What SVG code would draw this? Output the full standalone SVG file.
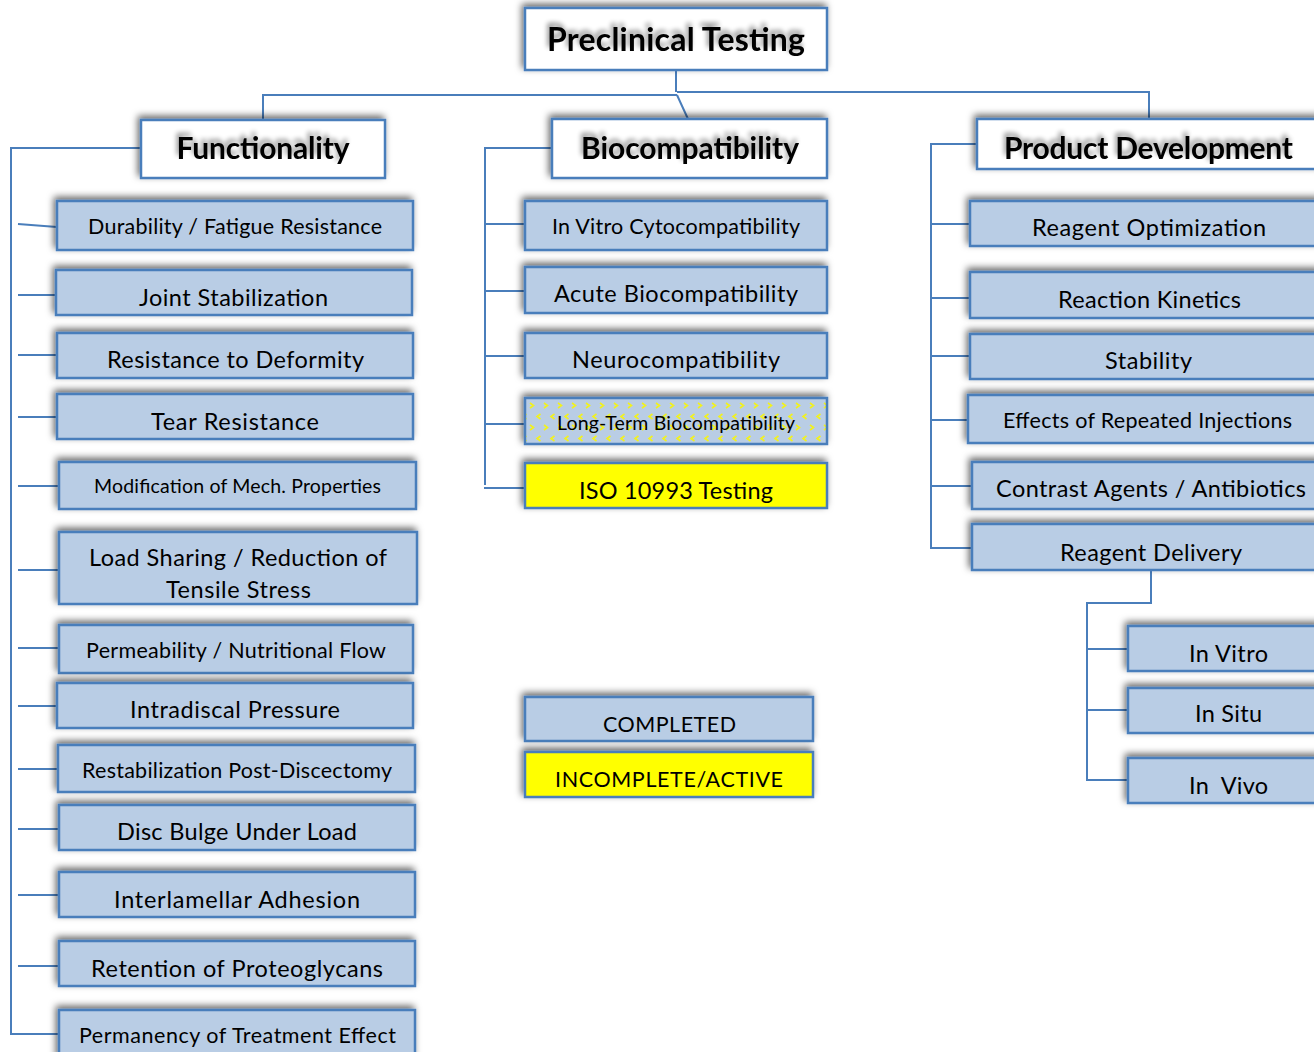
<svg xmlns="http://www.w3.org/2000/svg" width="1314" height="1052" viewBox="0 0 1314 1052">
<style>
.hd{fill:#fff;stroke:#4a7ebb;stroke-width:2.5;filter:url(#sh)}
.bx{fill:#b9cde5;stroke:#4a7ebb;stroke-width:2.5;filter:url(#sh)}
.yl{fill:#ffff00;stroke:#4a7ebb;stroke-width:2.5;filter:url(#sh)}
.pt{fill:url(#chev);stroke:#4a7ebb;stroke-width:2.5;filter:url(#sh)}
text{font-family:Lato,"Liberation Sans",sans-serif;fill:#000;text-anchor:middle}
.ht{font-weight:bold;font-size:30px;filter:url(#tsh)}
.t{font-size:23.5px}
.s{font-size:21.5px}
.c{fill:none;stroke:#4a7ebb;stroke-width:2}
</style>
<defs>
<filter id="sh" x="-10%" y="-30%" width="120%" height="160%">
<feDropShadow dx="-2" dy="-3" stdDeviation="3.5" flood-color="#000" flood-opacity="0.6"/>
</filter>
<filter id="tsh" x="-10%" y="-50%" width="120%" height="200%">
<feGaussianBlur in="SourceAlpha" stdDeviation="2.5" result="b"/>
<feOffset in="b" dx="-2" dy="-4" result="o"/>
<feComponentTransfer in="o" result="s"><feFuncA type="linear" slope="0.45"/></feComponentTransfer>
<feMerge><feMergeNode in="s"/><feMergeNode in="SourceGraphic"/></feMerge>
</filter>
<pattern id="chev" width="14" height="22" patternUnits="userSpaceOnUse" x="527" y="400">
<rect width="14" height="22" fill="#b9cde5"/>
<path d="M3 3 L6.5 5.5 L3 8" fill="none" stroke="#f2f21a" stroke-width="1.6"/>
<path d="M13.5 14 L10 16.5 L13.5 19" fill="none" stroke="#f2f21a" stroke-width="1.6"/>
</pattern>
</defs>

<g id="connectors">
<path class="c" d="M676 70 V92 M263 120 V95 H677 M677 92 H1149 V119 M677 95 L688 119"/>
<path class="c" d="M141 148 H11 V1034 H59"/>
<path class="c" d="M18 224 L57 227 M18 295 H56 M18 355 H57 M18 417 H57 M18 486 H59 M18 570 H59 M18 648 H59 M18 706 H57 M18 769 H58 M18 829 H59 M18 895 H59 M18 966 H59"/>
<path class="c" d="M552 148 H485 V485 M484 488 H525 M485 224 H525 M485 291 H525 M485 356 H525 M485 424 H525"/>
<path class="c" d="M977 144 H931 V548 H972 M931 224 H970 M931 298 H970 M931 356 H970 M931 420 H970 M931 486 H972"/>
<path class="c" d="M1151 570 V603 H1087 V780 H1128 M1087 649 H1128 M1087 710 H1128"/>
</g>

<g id="n-preclinical"><rect class="hd" x="525" y="8" width="302" height="62"/><text class="ht" x="676" y="51" style="font-size:32px" textLength="258">Preclinical Testing</text></g>
<g id="n-functionality"><rect class="hd" x="141" y="120" width="244" height="58"/><text class="ht" x="263" y="159" textLength="173">Functionality</text></g>
<g id="n-biocompatibility"><rect class="hd" x="552" y="119" width="275" height="59"/><text class="ht" x="690" y="159" textLength="218">Biocompatibility</text></g>
<g id="n-productdev"><rect class="hd" x="977" y="119" width="345" height="50"/><text class="ht" x="1148.5" y="159" textLength="289">Product Development</text></g>

<g id="n-durability"><rect class="bx" x="57" y="201" width="356" height="49"/><text class="s" x="235" y="234" textLength="294">Durability / Fatigue Resistance</text></g>
<g id="n-joint"><rect class="bx" x="56" y="270" width="356" height="45"/><text class="t" x="233.5" y="306" textLength="189">Joint Stabilization</text></g>
<g id="n-deformity"><rect class="bx" x="57" y="333" width="356" height="45"/><text class="t" x="235.5" y="368" textLength="257">Resistance to Deformity</text></g>
<g id="n-tear"><rect class="bx" x="57" y="394" width="356" height="45"/><text class="t" x="235" y="430" textLength="168">Tear Resistance</text></g>
<g id="n-modification"><rect class="bx" x="59" y="462" width="357" height="47"/><text class="t" x="237.5" y="493" style="font-size:19.5px" textLength="287">Modification of Mech. Properties</text></g>
<g id="n-loadsharing"><rect class="bx" x="59" y="532" width="358" height="72"/><text class="t" x="238" y="566" textLength="298">Load Sharing / Reduction of</text><text class="t" x="238.5" y="598" textLength="145">Tensile Stress</text></g>
<g id="n-permeability"><rect class="bx" x="59" y="625" width="354" height="48"/><text class="s" x="236" y="658" textLength="300">Permeability / Nutritional Flow</text></g>
<g id="n-intradiscal"><rect class="bx" x="57" y="683" width="356" height="45"/><text class="t" x="235" y="718" textLength="210">Intradiscal Pressure</text></g>
<g id="n-restabilization"><rect class="bx" x="58" y="745" width="357" height="47"/><text class="s" x="237" y="778" textLength="310">Restabilization Post-Discectomy</text></g>
<g id="n-discbulge"><rect class="bx" x="59" y="805" width="356" height="45"/><text class="t" x="237" y="840" textLength="240">Disc Bulge Under Load</text></g>
<g id="n-interlamellar"><rect class="bx" x="59" y="872" width="356" height="45"/><text class="t" x="237" y="908" textLength="246">Interlamellar Adhesion</text></g>
<g id="n-retention"><rect class="bx" x="59" y="941" width="356" height="45"/><text class="t" x="237" y="977" textLength="292">Retention of Proteoglycans</text></g>
<g id="n-permanency"><rect class="bx" x="59" y="1010" width="356" height="50"/><text class="s" x="237.5" y="1043" textLength="317">Permanency of Treatment Effect</text></g>

<g id="n-invitrocyto"><rect class="bx" x="525" y="201" width="302" height="49"/><text class="s" x="676" y="234" textLength="248">In Vitro Cytocompatibility</text></g>
<g id="n-acute"><rect class="bx" x="525" y="267" width="302" height="46"/><text class="t" x="676" y="302" textLength="244">Acute Biocompatibility</text></g>
<g id="n-neuro"><rect class="bx" x="525" y="333" width="302" height="45"/><text class="t" x="676" y="368" textLength="208">Neurocompatibility</text></g>
<g id="n-longterm"><rect class="pt" x="525" y="398" width="302" height="46"/><text class="t" x="676" y="430" style="font-size:19.5px" textLength="238">Long-Term Biocompatibility</text></g>
<g id="n-iso"><rect class="yl" x="525" y="463" width="302" height="45"/><text class="t" x="676" y="499" textLength="194">ISO 10993 Testing</text></g>

<g id="n-completed"><rect class="bx" x="525" y="697" width="288" height="44"/><text class="s" x="669.5" y="732" textLength="133">COMPLETED</text></g>
<g id="n-incomplete"><rect class="yl" x="525" y="752" width="288" height="45"/><text class="s" x="669" y="787" textLength="228">INCOMPLETE/ACTIVE</text></g>

<g id="n-reagentopt"><rect class="bx" x="970" y="201" width="352" height="45"/><text class="t" x="1149" y="236" textLength="234">Reagent Optimization</text></g>
<g id="n-kinetics"><rect class="bx" x="970" y="272" width="352" height="46"/><text class="t" x="1149.5" y="308" textLength="183">Reaction Kinetics</text></g>
<g id="n-stability"><rect class="bx" x="970" y="334" width="352" height="45"/><text class="t" x="1148.5" y="369" textLength="87">Stability</text></g>
<g id="n-effects"><rect class="bx" x="968" y="395" width="354" height="48"/><text class="s" x="1147.5" y="428" textLength="289">Effects of Repeated Injections</text></g>
<g id="n-contrast"><rect class="bx" x="972" y="462" width="350" height="47"/><text class="t" x="1151" y="497" textLength="310">Contrast Agents / Antibiotics</text></g>
<g id="n-delivery"><rect class="bx" x="972" y="524" width="350" height="46"/><text class="t" x="1151" y="561" textLength="182">Reagent Delivery</text></g>

<g id="n-invitro"><rect class="bx" x="1128" y="626" width="194" height="45"/><text class="t" x="1228.5" y="662" textLength="79">In Vitro</text></g>
<g id="n-insitu"><rect class="bx" x="1128" y="688" width="194" height="45"/><text class="t" x="1228.5" y="722" textLength="67">In Situ</text></g>
<g id="n-invivo"><rect class="bx" x="1128" y="758" width="194" height="45"/><text class="t" x="1228.5" y="794" xml:space="preserve" textLength="79">In  Vivo</text></g>
</svg>
